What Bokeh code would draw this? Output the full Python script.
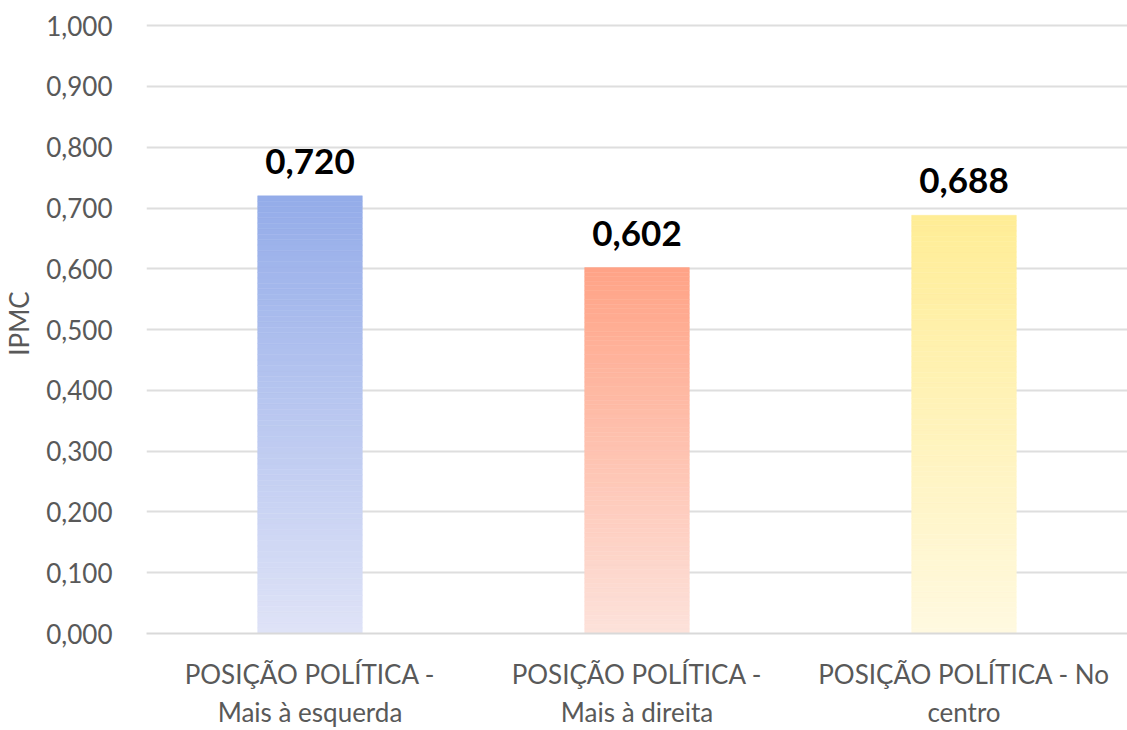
from bokeh.plotting import figure
from bokeh.models import (ColumnDataSource, Range1d, FixedTicker, CustomJSTickFormatter,
                          LabelSet, FactorRange)
from bokeh.core.properties import value
from bokeh.embed import file_html
from bokeh.resources import INLINE

# ---- data ----
categories = ["POSIÇÃO POLÍTICA -\nMais à esquerda",
              "POSIÇÃO POLÍTICA -\nMais à direita",
              "POSIÇÃO POLÍTICA - No\ncentro"]
values = [0.720, 0.602, 0.688]
value_labels = ["0,720", "0,602", "0,688"]
y_ticks = [0.0, 0.1, 0.2, 0.3, 0.4, 0.5, 0.6, 0.7, 0.8, 0.9, 1.0]

# gradient colours (top, bottom) per bar
top_colors = [(148, 172, 233), (255, 163, 134), (255, 237, 150)]
bottom_colors = [(223, 227, 247), (253, 226, 219), (255, 249, 224)]

FONT = "Lato"
GREY = "#595959"

p = figure(x_range=FactorRange(factors=categories, range_padding=0.0),
           y_range=Range1d(0, 1.02),
           width=1127, height=730, output_backend="svg", toolbar_location=None,
           min_border_left=138, min_border_right=0, min_border_top=13, min_border_bottom=10)
p.outline_line_color = None
p.background_fill_color = "white"
p.border_fill_color = "white"

# gradient bars built from stacked slices
N = 80
xs, bots, tops, cols = [], [], [], []
for c, v, tc, bc in zip(categories, values, top_colors, bottom_colors):
    for i in range(N):
        f0 = i / N
        f1 = (i + 1) / N
        fm = (i + 0.5) / N
        col = tuple(int(round(bc[k] + (tc[k] - bc[k]) * fm)) for k in range(3))
        xs.append(c)
        bots.append(v * f0)
        tops.append(v * f1)
        cols.append("#%02x%02x%02x" % col)
src = ColumnDataSource(dict(x=xs, bottom=bots, top=tops, color=cols))
p.vbar(x="x", bottom="bottom", top="top", width=0.32, source=src,
       fill_color="color", line_color="color", line_width=0.5)

lab_src = ColumnDataSource(dict(x=categories, y=values, text=value_labels))
labels = LabelSet(x="x", y="y", text="text", source=lab_src, y_offset=22,
                  text_align="center", text_baseline="alphabetic",
                  text_font=value(FONT), text_font_size=value("35px"),
                  text_font_style=value("bold"), text_color=value("black"))
p.add_layout(labels)

# axes
p.yaxis.ticker = FixedTicker(ticks=y_ticks)
p.yaxis.formatter = CustomJSTickFormatter(code="return tick.toFixed(3).replace('.', ',');")
p.yaxis.axis_label = "IPMC"
p.yaxis.axis_label_text_font = FONT
p.yaxis.axis_label_text_font_size = "26px"
p.yaxis.axis_label_text_font_style = "normal"
p.yaxis.axis_label_text_color = GREY
p.yaxis.axis_label_standoff = 8
p.yaxis.axis_line_color = None
p.yaxis.major_tick_line_color = None
p.yaxis.minor_tick_line_color = None
p.yaxis.major_label_text_font = FONT
p.yaxis.major_label_text_font_size = "26px"
p.yaxis.major_label_text_color = GREY
p.yaxis.major_label_standoff = 28

p.xaxis.axis_line_color = "#d9d9d9"
p.xaxis.axis_line_width = 2
p.xaxis.major_tick_line_color = None
p.xaxis.minor_tick_line_color = None
p.xaxis.major_label_text_font = FONT
p.xaxis.major_label_text_font_size = "26px"
p.xaxis.major_label_text_color = GREY
p.xaxis.major_label_standoff = 18
p.xaxis.major_label_orientation = "horizontal"

p.xgrid.grid_line_color = None
p.ygrid.grid_line_color = "#dedede"
p.ygrid.grid_line_width = 2

open("out.html", "w").write(file_html(p, INLINE))
